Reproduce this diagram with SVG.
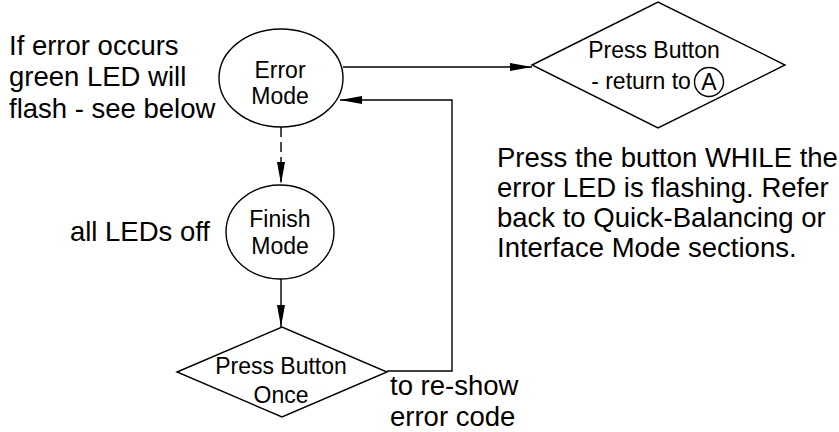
<svg xmlns="http://www.w3.org/2000/svg" width="839" height="432" viewBox="0 0 839 432">
<defs>
<style>
.shape{fill:#fff;stroke:#000;stroke-width:1.4}
.conn{fill:none;stroke:#000;stroke-width:1.4}
.dash{stroke-dasharray:10 5}
.nt{font-family:"Liberation Sans",Arial,sans-serif;font-size:23px;fill:#000;text-anchor:middle}
.ann{font-family:"Liberation Sans",Arial,sans-serif;font-size:27.5px;fill:#000}
</style>
<marker id="arr" markerUnits="userSpaceOnUse" markerWidth="22" markerHeight="8" refX="22" refY="4" orient="auto">
<path d="M0,0 L22,4 L0,8 Z" fill="#000"/>
</marker>
</defs>
<rect width="839" height="432" fill="#fff"/>
<g id="connectors">
<line class="conn" x1="343" y1="67" x2="532" y2="67" marker-end="url(#arr)"/>
<polyline class="conn" points="387,371 452,371 452,100 340,100" marker-end="url(#arr)"/>
<line class="conn dash" x1="281" y1="127" x2="281" y2="184" marker-end="url(#arr)"/>
<line class="conn" x1="281" y1="279" x2="281" y2="327" marker-end="url(#arr)"/>
</g>
<g id="error-mode">
<ellipse class="shape" cx="281" cy="78" rx="62" ry="49"/>
<text class="nt" x="280" y="78">Error</text>
<text class="nt" x="280" y="104">Mode</text>
</g>
<g id="finish-mode">
<ellipse class="shape" cx="280" cy="232" rx="54" ry="47"/>
<text class="nt" x="280" y="227">Finish</text>
<text class="nt" x="280" y="254">Mode</text>
</g>
<g id="press-once">
<polygon class="shape" points="177,372 282,327 387,372 282,417"/>
<text class="nt" x="281" y="374">Press Button</text>
<text class="nt" x="281" y="403">Once</text>
</g>
<g id="press-return">
<polygon class="shape" points="532,65 658,2 785,65 658,128"/>
<text class="nt" x="654" y="58">Press Button</text>
<text class="nt" x="641" y="89">- return to</text>
<circle class="shape" cx="709" cy="82" r="14.5"/>
<text class="nt" x="709" y="90">A</text>
</g>
<g id="notes">
<text class="ann" x="9" y="55">If error occurs</text>
<text class="ann" x="9" y="86">green LED will</text>
<text class="ann" x="9" y="118">flash - see below</text>
<text class="ann" x="210" y="241" text-anchor="end">all LEDs off</text>
<text class="ann" x="390" y="395">to re-show</text>
<text class="ann" x="390" y="426">error code</text>
<text class="ann" x="497" y="167">Press the button WHILE the</text>
<text class="ann" x="497" y="197">error LED is flashing. Refer</text>
<text class="ann" x="497" y="227">back to Quick-Balancing or</text>
<text class="ann" x="497" y="257">Interface Mode sections.</text>
</g>
</svg>
